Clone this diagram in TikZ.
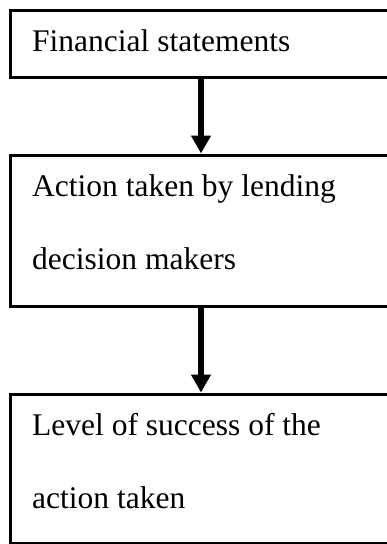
\documentclass[tikz,border=0pt]{standalone}
\usepackage{fontspec}
\setmainfont{Liberation Serif}
\usetikzlibrary{arrows.meta}

\begin{document}
\begin{tikzpicture}[x=1pt, y=-1pt,
  box/.style={draw, line width=3pt, outer sep=0pt, inner sep=0pt,
    anchor=north west, minimum width=400pt},
  boxtext/.style={anchor=north west, inner sep=0pt, align=left,
    font=\fontsize{31.5}{73}\selectfont},
  flow/.style={line width=6pt, -{Triangle[width=19pt,length=18pt]}, shorten >=1.5pt}]
\useasboundingbox (0,0) rectangle (387,544);
\clip (0,0) rectangle (387,544);
\coordinate (axis) at (201,0);

\node[box, minimum height=67pt] (fin) at (10,10) {};
\node[boxtext] (fintext) at ([shift={(22,19.5)}]fin.north west) {Financial statements};

\node[box, minimum height=151pt] (act) at (10,155) {};
\node[boxtext] (acttext) at ([shift={(22,19.5)}]act.north west) {Action taken by lending\\decision makers};

\node[box, minimum height=149pt] (lev) at (10,394) {};
\node[boxtext] (levtext) at ([shift={(22,19.5)}]lev.north west) {Level of success of the\\action taken};

\draw[flow] (fin.south -| axis) -- (act.north -| axis);
\draw[flow] (act.south -| axis) -- (lev.north -| axis);
\end{tikzpicture}
\end{document}
